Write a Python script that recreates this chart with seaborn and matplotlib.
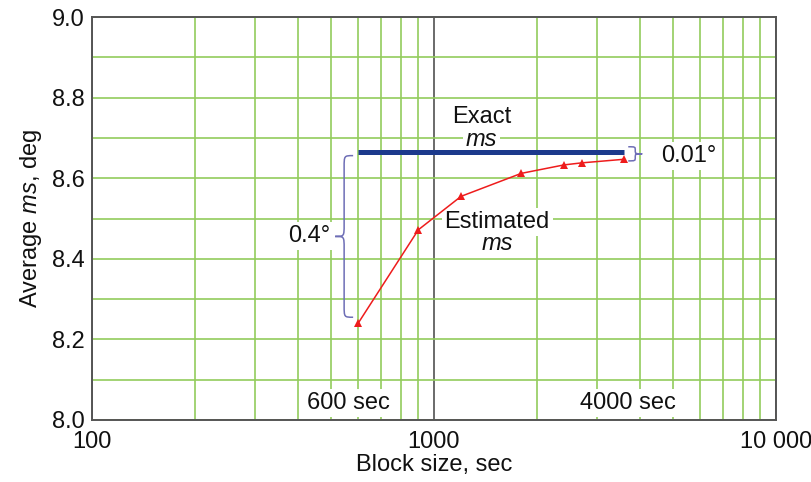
"""Average ms vs block size chart."""

import matplotlib
matplotlib.use("Agg")

import matplotlib.pyplot as plt
import matplotlib.ticker as mticker
from matplotlib.path import Path
from matplotlib.patches import PathPatch
import numpy as np
import seaborn as sns

# data
block_size = [600, 900, 1200, 1800, 2400, 2700, 3600]
estimated_ms = [8.240, 8.472, 8.555, 8.612, 8.633, 8.638, 8.647]
exact_x = [600, 3600]
exact_ms = [8.666, 8.666]

y_major = [8.0, 8.2, 8.4, 8.6, 8.8, 9.0]
x_major = [100, 1000, 10000]
x_major_labels = ["100", "1000", "10 000"]

GREEN = "#92cc5c"
FONT = "Liberation Sans"
FS = 17

sns.set_theme(style="white")
plt.rcParams.update({
    "font.family": [FONT, "DejaVu Sans"],
    "mathtext.fontset": "custom",
    "mathtext.rm": FONT,
    "mathtext.it": f"{FONT}:italic",
    "font.size": FS,
})

fig = plt.figure(figsize=(8.12, 4.82), dpi=100)
ax = fig.add_axes([92 / 812, 1 - 420 / 482, 684 / 812, 403 / 482])
ax.set_xscale("log")
ax.set_xlim(100, 10000)
ax.set_ylim(8.0, 9.0)

# grid
ax.yaxis.set_major_locator(mticker.FixedLocator(y_major))
ax.yaxis.set_minor_locator(mticker.MultipleLocator(0.1))
ax.yaxis.set_major_formatter(mticker.FormatStrFormatter("%.1f"))
ax.xaxis.set_major_locator(mticker.FixedLocator(x_major))
ax.xaxis.set_major_formatter(mticker.FixedFormatter(x_major_labels))
ax.xaxis.set_minor_locator(mticker.LogLocator(base=10, subs=np.arange(2, 10)))
ax.xaxis.set_minor_formatter(mticker.NullFormatter())
ax.grid(True, which="both", axis="y", color=GREEN, lw=1.2)
ax.grid(True, which="minor", axis="x", color=GREEN, lw=1.2)
ax.grid(True, which="major", axis="x", color="#6a6a6a", lw=1.4)
ax.set_axisbelow(True)
ax.tick_params(which="both", length=0, labelsize=FS, colors="#111111")
ax.tick_params(axis="x", pad=8)
ax.tick_params(axis="y", pad=5)
for s in ax.spines.values():
    s.set_color("#555555")
    s.set_linewidth(1.4)

sns.lineplot(x=exact_x, y=exact_ms, color="#1c3a8c", lw=3.6, ax=ax,
             solid_capstyle="butt", zorder=4)
sns.lineplot(x=block_size, y=estimated_ms, color="#ee1c1c", lw=1.1,
             marker="^", markersize=6, markeredgewidth=0, ax=ax, zorder=5)

ax.set_xlabel("Block size, sec", fontsize=FS, labelpad=1, color="#111111")
ax.set_ylabel(r"Average $\it{ms}$, deg", fontsize=FS, labelpad=6, color="#111111")

box = dict(facecolor="white", edgecolor="none", pad=2)


def txt(x, y, s, **kw):
    ax.text(x, y, s, ha="center", va="center", fontsize=FS,
            color="#111111", bbox=box, zorder=3, **kw)


txt(1380, 8.752, "Exact")
txt(1380, 8.695, "ms", style="italic")
txt(1530, 8.491, "Estimated")
txt(1530, 8.437, "ms", style="italic")
txt(432, 8.457, "0.4°")
txt(5550, 8.655, "0.01°")
txt(561, 8.043, "600 sec")
txt(3700, 8.043, "4000 sec")


def brace(x, y0, y1, dx, depth, color="#6e6eb6"):
    """Curly brace in pixel space, pointing left when depth > 0."""
    fig.canvas.draw()
    tr = ax.transData
    xs, yb = tr.transform((x, y0))
    _, yt = tr.transform((x, y1))
    xs += dx
    ym = (yb + yt) / 2
    h = depth
    q = min(abs(h) * 1.3, (yt - yb) / 4)
    verts = [
        (xs + h, yt), (xs, yt), (xs, yt), (xs, yt - q),
        (xs, ym + q),
        (xs, ym), (xs, ym), (xs - h, ym),
        (xs, ym), (xs, ym), (xs, ym - q),
        (xs, yb + q),
        (xs, yb), (xs, yb), (xs + h, yb),
    ]
    codes = [Path.MOVETO, Path.CURVE4, Path.CURVE4, Path.CURVE4,
             Path.LINETO,
             Path.CURVE4, Path.CURVE4, Path.CURVE4,
             Path.CURVE4, Path.CURVE4, Path.CURVE4,
             Path.LINETO,
             Path.CURVE4, Path.CURVE4, Path.CURVE4]
    inv = tr.inverted()
    data = inv.transform(np.array(verts))
    ax.add_patch(PathPatch(Path(data, codes), fill=False, edgecolor=color,
                           lw=1.1, zorder=6))


brace(block_size[0], estimated_ms[0] + 0.015, exact_ms[0] - 0.01, -14, 9)
brace(exact_x[1], estimated_ms[-1] - 0.004, exact_ms[0] + 0.012, 11, -7)

fig.savefig("out.png", dpi=100)
